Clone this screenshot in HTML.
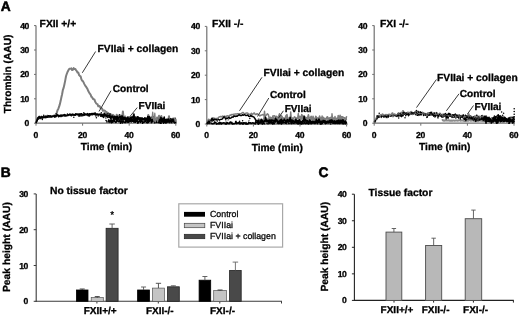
<!DOCTYPE html>
<html lang="en">
<head>
<meta charset="utf-8">
<title>Figure</title>
<style>
html,body{margin:0;padding:0;background:#fff;}
body{width:520px;height:315px;overflow:hidden;}
svg{display:block;font-family:"Liberation Sans", Arial, Helvetica, sans-serif;text-rendering:geometricPrecision;}
text{stroke:#000;stroke-width:.3px;stroke-linejoin:round;}
text.n{stroke-width:.15px;}
</style>
</head>
<body>
<svg width="520" height="315" viewBox="0 0 520 315">
<rect x="0" y="0" width="520" height="315" fill="#fff"/>
<line x1="36.00" y1="25.60" x2="36.00" y2="123.70" stroke="#707070" stroke-width="1.2"/>
<line x1="35.50" y1="123.20" x2="176.80" y2="123.20" stroke="#707070" stroke-width="1.3"/>
<line x1="34.00" y1="123.20" x2="36.00" y2="123.20" stroke="#707070" stroke-width="1"/>
<text x="29.1" y="126.2" font-size="8.6" font-weight="bold" text-anchor="end" fill="#000" letter-spacing="-0.3">0</text>
<line x1="34.00" y1="98.80" x2="36.00" y2="98.80" stroke="#707070" stroke-width="1"/>
<text x="29.1" y="101.8" font-size="8.6" font-weight="bold" text-anchor="end" fill="#000" letter-spacing="-0.3">10</text>
<line x1="34.00" y1="74.40" x2="36.00" y2="74.40" stroke="#707070" stroke-width="1"/>
<text x="29.1" y="77.4" font-size="8.6" font-weight="bold" text-anchor="end" fill="#000" letter-spacing="-0.3">20</text>
<line x1="34.00" y1="50.00" x2="36.00" y2="50.00" stroke="#707070" stroke-width="1"/>
<text x="29.1" y="53.0" font-size="8.6" font-weight="bold" text-anchor="end" fill="#000" letter-spacing="-0.3">30</text>
<line x1="34.00" y1="25.60" x2="36.00" y2="25.60" stroke="#707070" stroke-width="1"/>
<text x="29.1" y="28.6" font-size="8.6" font-weight="bold" text-anchor="end" fill="#000" letter-spacing="-0.3">40</text>
<line x1="36.00" y1="123.20" x2="36.00" y2="125.70" stroke="#707070" stroke-width="1"/>
<text x="35.8" y="137.6" font-size="8.6" font-weight="bold" text-anchor="middle" fill="#000" letter-spacing="-0.3">0</text>
<line x1="82.60" y1="123.20" x2="82.60" y2="125.70" stroke="#707070" stroke-width="1"/>
<text x="82.4" y="137.6" font-size="8.6" font-weight="bold" text-anchor="middle" fill="#000" letter-spacing="-0.3">20</text>
<line x1="129.20" y1="123.20" x2="129.20" y2="125.70" stroke="#707070" stroke-width="1"/>
<text x="129.0" y="137.6" font-size="8.6" font-weight="bold" text-anchor="middle" fill="#000" letter-spacing="-0.3">40</text>
<line x1="175.80" y1="123.20" x2="175.80" y2="125.70" stroke="#707070" stroke-width="1"/>
<text x="175.6" y="137.6" font-size="8.6" font-weight="bold" text-anchor="middle" fill="#000" letter-spacing="-0.3">60</text>
<text x="106.5" y="149.7" font-size="10.2" font-weight="bold" text-anchor="middle" fill="#000">Time (min)</text>
<text x="39.6" y="26.6" font-size="10.3" font-weight="bold" text-anchor="start" fill="#000">FXII +/+</text>
<polyline points="36.0,123.2 36.8,119.9 37.5,118.1 38.3,117.5 39.1,116.7 39.8,117.0 40.6,118.1 41.4,116.5 42.2,117.9 42.9,117.8 43.7,116.5 44.5,116.6 45.2,116.3 46.0,116.3 46.8,116.1 47.5,115.7 48.3,116.7 49.1,116.5 49.8,116.7 50.6,117.0 51.4,116.9 52.1,116.3 52.9,116.4 53.7,115.6 54.5,116.5 55.2,116.9 56.0,116.1 56.8,112.7 57.5,110.3 58.3,108.9 59.1,106.7 59.8,104.4 60.6,101.1 61.4,97.3 62.1,94.3 62.9,89.8 63.7,87.6 64.4,84.5 65.2,80.6 66.0,76.3 66.8,73.8 67.5,72.0 68.3,70.5 69.1,69.1 69.8,68.7 70.6,68.8 71.4,68.4 72.1,70.0 72.9,69.8 73.7,68.1 74.4,69.0 75.2,68.9 76.0,70.1 76.8,71.1 77.5,72.5 78.3,72.5 79.1,75.1 79.8,75.8 80.6,76.3 81.4,79.3 82.1,80.6 82.9,81.1 83.7,82.6 84.4,84.1 85.2,85.6 86.0,86.6 86.7,87.7 87.5,89.1 88.3,91.1 89.1,92.4 89.8,93.7 90.6,94.6 91.4,96.9 92.1,97.2 92.9,98.8 93.7,99.3 94.4,99.4 95.2,101.8 96.0,103.1 96.7,103.9 97.5,104.1 98.3,106.3 99.0,105.9 99.8,106.4 100.6,108.2 101.4,108.2 102.1,108.6 102.9,110.8 103.7,110.5 104.4,110.4 105.2,111.1 106.0,112.0 106.7,112.0 107.5,113.3 108.3,113.0 109.0,114.1 109.8,114.1 110.6,114.3 111.4,114.7 112.1,116.0 112.9,114.9 113.7,115.5 114.4,116.2 115.2,117.2 116.0,118.1 116.7,114.8 117.5,120.2 118.3,115.5 119.0,117.0 119.8,117.1 120.6,116.2 121.3,115.7 122.1,119.1 122.9,111.4 123.7,119.3 124.4,119.7 125.2,116.5 126.0,120.5 126.7,118.9 127.5,117.6 128.3,119.5 129.0,118.5 129.8,120.8 130.6,118.5 131.3,117.5 132.1,119.9 132.9,117.5 133.7,114.6 134.4,118.3 135.2,117.7 136.0,120.0 136.7,117.6 137.5,117.7 138.3,118.0 139.0,119.0 139.8,121.0 140.6,117.9 141.3,120.1 142.1,121.5 142.9,119.5 143.6,122.8 144.4,118.9 145.2,118.3 146.0,119.8 146.7,119.0 147.5,120.1 148.3,114.9 149.0,119.0 149.8,118.8 150.6,120.0 151.3,117.7 152.1,117.2 152.9,118.2 153.6,120.1 154.4,119.2 155.2,120.5 155.9,120.2 156.7,118.9 157.5,117.9 158.3,117.8 159.0,115.8 159.8,121.1 160.6,119.2 161.3,115.9 162.1,120.1 162.9,119.2 163.6,119.5 164.4,121.1 165.2,121.8 165.9,121.1 166.7,120.6 167.5,119.9 168.3,120.0 169.0,116.2 169.8,121.5 170.6,119.9 171.3,120.4 172.1,119.6 172.9,118.6 173.6,119.9 174.4,121.3 175.2,118.1" fill="none" stroke="#7d7d7d" stroke-width="2.0" stroke-linejoin="round"/>
<polyline points="36.0,123.2 36.6,121.7 37.2,119.6 37.7,118.5 38.3,119.2 38.9,117.9 39.5,118.5 40.1,117.7 40.7,118.5 41.2,117.8 41.8,117.4 42.4,118.2 43.0,117.6 43.6,117.4 44.2,117.4 44.7,117.7 45.3,116.8 45.9,117.9 46.5,117.1 47.1,116.7 47.6,117.3 48.2,116.8 48.8,117.2 49.4,116.9 50.0,116.8 50.6,116.7 51.1,117.0 51.7,116.7 52.3,116.7 52.9,116.4 53.5,116.2 54.1,116.5 54.6,117.2 55.2,116.6 55.8,116.1 56.4,116.6 57.0,115.9 57.6,115.7 58.1,115.7 58.7,117.0 59.3,116.0 59.9,116.3 60.5,115.6 61.0,116.7 61.6,115.4 62.2,116.3 62.8,115.6 63.4,115.8 64.0,115.5 64.5,116.2 65.1,115.9 65.7,116.1 66.3,115.6 66.9,116.1 67.5,114.9 68.0,115.2 68.6,115.5 69.2,114.7 69.8,114.8 70.4,115.4 71.0,115.6 71.5,115.9 72.1,115.0 72.7,115.1 73.3,115.4 73.9,114.6 74.4,115.2 75.0,114.5 75.6,115.3 76.2,114.6 76.8,114.4 77.4,114.4 77.9,115.0 78.5,115.1 79.1,114.5 79.7,115.1 80.3,114.7 80.9,115.1 81.4,116.0 82.0,115.1 82.6,115.8 83.2,114.9 83.8,114.5 84.3,115.2 84.9,115.3 85.5,114.8 86.1,115.0 86.7,114.5 87.3,114.8 87.8,115.6 88.4,114.9 89.0,115.6 89.6,115.9 90.2,113.7 90.8,115.0 91.3,114.5 91.9,114.4 92.5,114.9 93.1,114.6 93.7,114.0 94.2,113.7 94.8,114.8 95.4,113.8 96.0,115.3 96.6,114.1 97.2,114.6 97.7,115.1 98.3,115.2 98.9,114.7 99.5,114.7 100.1,115.2 100.7,116.4 101.2,115.8 101.8,113.9 102.4,115.0 103.0,114.7 103.6,115.0 104.2,113.0 104.7,115.1 105.3,115.1 105.9,115.0 106.5,115.4 107.1,114.5 107.6,117.5 108.2,117.5 108.8,116.6 109.4,117.2 110.0,113.6 110.6,118.6 111.1,118.8 111.7,117.2 112.3,116.1 112.9,116.0 113.5,119.6 114.1,118.4 114.6,120.4 115.2,116.8 115.8,118.2 116.4,116.3 117.0,121.0 117.5,117.8 118.1,117.5 118.7,119.2 119.3,120.8 119.9,119.5 120.5,119.3 121.0,117.7 121.6,120.1 122.2,119.3 122.8,117.5 123.4,118.0 124.0,118.7 124.5,119.1 125.1,117.7 125.7,122.4 126.3,118.6 126.9,120.3 127.5,119.3 128.0,116.6 128.6,120.5 129.2,120.3 129.8,119.1 130.4,119.5 130.9,119.2 131.5,119.9 132.1,120.3 132.7,120.4 133.3,119.7 133.9,119.3 134.4,120.5 135.0,120.5 135.6,116.8 136.2,119.5 136.8,118.5 137.4,119.0 137.9,118.8 138.5,117.1 139.1,119.5 139.7,118.4 140.3,121.2 140.9,120.3 141.4,119.2 142.0,118.2 142.6,119.6 143.2,118.6 143.8,119.4 144.3,119.4 144.9,120.2 145.5,121.5 146.1,118.3 146.7,118.8 147.3,119.7 147.8,119.7 148.4,116.5 149.0,119.2 149.6,116.3 150.2,120.3 150.8,118.2 151.3,120.7 151.9,117.3 152.5,120.5 153.1,116.6 153.7,118.9 154.2,119.8 154.8,123.2 155.4,119.9 156.0,120.4 156.6,119.2 157.2,119.6 157.7,118.5 158.3,120.3 158.9,122.2 159.5,120.7 160.1,119.0 160.7,117.1 161.2,120.2 161.8,118.1 162.4,121.0 163.0,120.2 163.6,120.4 164.2,121.6 164.7,120.4 165.3,121.7 165.9,122.6 166.5,119.1 167.1,119.2 167.6,122.2 168.2,119.4 168.8,120.9 169.4,120.2 170.0,121.5 170.6,119.9 171.1,120.7 171.7,118.8 172.3,119.9 172.9,120.2 173.5,120.7 174.1,121.2 174.6,119.9 175.2,118.1 175.8,122.8" fill="none" stroke="#111" stroke-width="1.3" stroke-linejoin="round"/>
<polyline points="36.0,122.7 36.6,121.3 37.2,120.6 37.7,118.1 38.3,117.7 38.9,117.4 39.5,117.1 40.1,117.3 40.7,117.2 41.2,117.0 41.8,116.8 42.4,117.1 43.0,117.0 43.6,117.4 44.2,117.0 44.7,116.9 45.3,117.0 45.9,116.3 46.5,116.6 47.1,117.1 47.6,116.0 48.2,116.1 48.8,115.7 49.4,115.9 50.0,116.4 50.6,115.9 51.1,116.4 51.7,116.6 52.3,116.2 52.9,116.2 53.5,116.2 54.1,116.0 54.6,115.4 55.2,116.5 55.8,115.7 56.4,115.1 57.0,115.1 57.6,114.9 58.1,115.3 58.7,116.1 59.3,116.0 59.9,115.4 60.5,115.1 61.0,115.3 61.6,115.1 62.2,115.4 62.8,115.1 63.4,115.1 64.0,115.2 64.5,114.5 65.1,114.9 65.7,115.5 66.3,115.2 66.9,115.3 67.5,115.1 68.0,114.9 68.6,114.8 69.2,114.7 69.8,114.1 70.4,114.5 71.0,114.3 71.5,114.8 72.1,114.6 72.7,114.1 73.3,114.5 73.9,114.5 74.4,115.0 75.0,115.2 75.6,113.9 76.2,113.9 76.8,114.5 77.4,114.0 77.9,114.5 78.5,114.1 79.1,113.8 79.7,114.7 80.3,113.9 80.9,114.5 81.4,113.7 82.0,114.1 82.6,114.4 83.2,114.3 83.8,114.2 84.3,113.7 84.9,114.4 85.5,114.2 86.1,114.4 86.7,114.6 87.3,113.6 87.8,114.0 88.4,114.2 89.0,114.6 89.6,113.7 90.2,114.4 90.8,114.2 91.3,113.8 91.9,113.5 92.5,114.0 93.1,113.4 93.7,114.1 94.2,114.2 94.8,113.7 95.4,113.6 96.0,114.0 96.6,114.3 97.2,114.2 97.7,114.3 98.3,114.5 98.9,114.2 99.5,114.3 100.1,114.0 100.7,114.3 101.2,115.0 101.8,116.3 102.4,116.7 103.0,114.9 103.6,114.7 104.2,116.0 104.7,113.6 105.3,115.2 105.9,116.1 106.5,116.5 107.1,115.7 107.6,115.5 108.2,115.9 108.8,115.3 109.4,115.4 110.0,117.6 110.6,118.0 111.1,116.5 111.7,116.2 112.3,116.7 112.9,117.0 113.5,119.0 114.1,116.7 114.6,116.6 115.2,116.9 115.8,117.6 116.4,119.6 117.0,118.0 117.5,116.5 118.1,119.1 118.7,118.4 119.3,117.9 119.9,116.1 120.5,118.4 121.0,116.6 121.6,119.8 122.2,116.4 122.8,117.2 123.4,119.6 124.0,117.3 124.5,118.9 125.1,117.9 125.7,119.8 126.3,119.1 126.9,118.0 127.5,117.7 128.0,119.2 128.6,119.0 129.2,118.3 129.8,120.2 130.4,117.2 130.9,120.4 131.5,117.3 132.1,116.7 132.7,118.0 133.3,118.4 133.9,114.0 134.4,118.4 135.0,120.7 135.6,119.2 136.2,118.6 136.8,118.9 137.4,116.8 137.9,119.6 138.5,117.3 139.1,117.8 139.7,119.6 140.3,118.0 140.9,119.1 141.4,120.4 142.0,117.8 142.6,119.0 143.2,119.8 143.8,118.6 144.3,119.4 144.9,118.0 145.5,119.4 146.1,118.9 146.7,118.2 147.3,119.7 147.8,116.6 148.4,120.0 149.0,120.9 149.6,117.7 150.2,118.6 150.8,120.4 151.3,120.5 151.9,119.3 152.5,118.9 153.1,119.9 153.7,117.1 154.2,119.1 154.8,120.4 155.4,119.7 156.0,121.9 156.6,120.2 157.2,119.2 157.7,119.9 158.3,120.6 158.9,120.5 159.5,120.2 160.1,119.9 160.7,119.2 161.2,119.6 161.8,120.6 162.4,120.7 163.0,118.8 163.6,118.9 164.2,117.0 164.7,119.6 165.3,120.3 165.9,119.6 166.5,122.1 167.1,120.6 167.6,120.7 168.2,119.0 168.8,120.0 169.4,122.0 170.0,120.3 170.6,121.3 171.1,121.1 171.7,121.8 172.3,119.7 172.9,120.2 173.5,118.5 174.1,121.2 174.6,122.7 175.2,121.5 175.8,120.2" fill="none" stroke="#000" stroke-width="1.5" stroke-linejoin="round"/>
<polyline points="108.2,122.5 108.8,119.9 109.4,121.2 110.0,122.3 110.6,120.8 111.1,119.7 111.7,122.3 112.3,120.4 112.9,122.2 113.5,120.0 114.1,120.2 114.6,121.2 115.2,122.0 115.8,122.5 116.4,121.9 117.0,120.1 117.5,120.6 118.1,121.0 118.7,121.6 119.3,121.1 119.9,120.4 120.5,123.2 121.0,121.5 121.6,121.0 122.2,122.2 122.8,121.6 123.4,121.3 124.0,122.3 124.5,122.3 125.1,122.6 125.7,122.2 126.3,121.2 126.9,120.3 127.5,121.3 128.0,121.5 128.6,122.1 129.2,121.0 129.8,121.7 130.4,120.1 130.9,121.2 131.5,120.3 132.1,120.8 132.7,121.3 133.3,121.0 133.9,122.2 134.4,120.6 135.0,121.5 135.6,122.1 136.2,121.3 136.8,120.4 137.4,121.3 137.9,123.2 138.5,122.0 139.1,121.4 139.7,120.9 140.3,122.3 140.9,121.1 141.4,120.7 142.0,120.9 142.6,123.2 143.2,122.1 143.8,122.2 144.3,122.0 144.9,121.6 145.5,120.3 146.1,121.6 146.7,122.6 147.3,122.9 147.8,120.8 148.4,122.5 149.0,121.7 149.6,120.0 150.2,119.9 150.8,119.9 151.3,122.7 151.9,119.7 152.5,121.5 153.1,120.4 153.7,121.5 154.2,120.3 154.8,121.4 155.4,121.4 156.0,121.6 156.6,122.3 157.2,121.4 157.7,120.6 158.3,122.6 158.9,121.4 159.5,122.6 160.1,122.7 160.7,123.2 161.2,119.6 161.8,121.3 162.4,121.8 163.0,120.4 163.6,123.2 164.2,121.4 164.7,122.2 165.3,120.8 165.9,123.0 166.5,121.4 167.1,121.6 167.6,120.1 168.2,122.1 168.8,121.6 169.4,121.1 170.0,121.2 170.6,121.0 171.1,121.5 171.7,122.7 172.3,120.3 172.9,119.7 173.5,121.5 174.1,122.4 174.6,120.6 175.2,122.7 175.8,121.4" fill="none" stroke="#000" stroke-width="1.6" stroke-linejoin="round"/>
<circle cx="161.2" cy="123.1" r="0.75" fill="#000"/>
<circle cx="146.7" cy="119.5" r="0.75" fill="#000"/>
<circle cx="133.6" cy="120.6" r="0.75" fill="#000"/>
<circle cx="111.3" cy="117.2" r="0.75" fill="#000"/>
<circle cx="159.7" cy="122.4" r="0.75" fill="#000"/>
<circle cx="114.6" cy="118.0" r="0.75" fill="#000"/>
<circle cx="57.5" cy="115.0" r="0.75" fill="#000"/>
<circle cx="106.1" cy="114.0" r="0.75" fill="#000"/>
<circle cx="58.2" cy="115.5" r="0.75" fill="#000"/>
<circle cx="105.9" cy="117.9" r="0.75" fill="#000"/>
<circle cx="156.9" cy="120.4" r="0.75" fill="#000"/>
<circle cx="39.2" cy="117.0" r="0.75" fill="#000"/>
<circle cx="115.7" cy="119.8" r="0.75" fill="#000"/>
<circle cx="129.8" cy="118.6" r="0.75" fill="#000"/>
<circle cx="95.9" cy="116.1" r="0.75" fill="#000"/>
<circle cx="170.4" cy="118.8" r="0.75" fill="#000"/>
<circle cx="125.8" cy="118.3" r="0.75" fill="#000"/>
<circle cx="42.3" cy="119.6" r="0.75" fill="#000"/>
<circle cx="166.4" cy="122.4" r="0.75" fill="#000"/>
<circle cx="83.8" cy="112.8" r="0.75" fill="#000"/>
<circle cx="105.0" cy="115.9" r="0.75" fill="#000"/>
<circle cx="161.7" cy="118.0" r="0.75" fill="#000"/>
<circle cx="124.3" cy="118.8" r="0.75" fill="#000"/>
<circle cx="84.9" cy="113.8" r="0.75" fill="#000"/>
<circle cx="103.6" cy="116.8" r="0.75" fill="#000"/>
<circle cx="110.6" cy="116.7" r="0.75" fill="#000"/>
<circle cx="98.2" cy="116.1" r="0.75" fill="#000"/>
<circle cx="96.4" cy="117.8" r="0.75" fill="#000"/>
<circle cx="78.6" cy="116.1" r="0.75" fill="#000"/>
<circle cx="152.1" cy="122.0" r="0.75" fill="#000"/>
<circle cx="75.7" cy="114.0" r="0.75" fill="#000"/>
<circle cx="107.9" cy="113.8" r="0.75" fill="#000"/>
<circle cx="147.2" cy="120.5" r="0.75" fill="#000"/>
<circle cx="83.8" cy="115.5" r="0.75" fill="#000"/>
<circle cx="118.9" cy="117.6" r="0.75" fill="#000"/>
<circle cx="125.6" cy="119.3" r="0.75" fill="#000"/>
<circle cx="137.7" cy="120.3" r="0.75" fill="#000"/>
<circle cx="160.1" cy="121.1" r="0.75" fill="#000"/>
<circle cx="79.6" cy="115.2" r="0.75" fill="#000"/>
<circle cx="39.2" cy="116.6" r="0.75" fill="#000"/>
<circle cx="122.0" cy="115.7" r="0.75" fill="#000"/>
<circle cx="128.8" cy="118.6" r="0.75" fill="#000"/>
<circle cx="122.4" cy="122.9" r="0.75" fill="#000"/>
<circle cx="123.1" cy="121.1" r="0.75" fill="#000"/>
<circle cx="120.3" cy="121.1" r="0.75" fill="#000"/>
<circle cx="131.9" cy="119.0" r="0.75" fill="#000"/>
<circle cx="101.3" cy="112.8" r="0.75" fill="#000"/>
<circle cx="143.2" cy="119.1" r="0.75" fill="#000"/>
<circle cx="43.4" cy="116.9" r="0.75" fill="#000"/>
<circle cx="144.8" cy="117.9" r="0.75" fill="#000"/>
<circle cx="89.0" cy="116.0" r="0.75" fill="#000"/>
<circle cx="151.4" cy="119.8" r="0.75" fill="#000"/>
<circle cx="73.8" cy="117.3" r="0.75" fill="#000"/>
<circle cx="79.9" cy="116.3" r="0.75" fill="#000"/>
<circle cx="97.5" cy="114.2" r="0.75" fill="#000"/>
<circle cx="126.6" cy="118.9" r="0.75" fill="#000"/>
<circle cx="116.3" cy="118.5" r="0.75" fill="#000"/>
<circle cx="43.7" cy="115.2" r="0.75" fill="#000"/>
<circle cx="117.4" cy="116.5" r="0.75" fill="#000"/>
<circle cx="164.6" cy="121.0" r="0.75" fill="#000"/>
<circle cx="91.6" cy="114.5" r="0.75" fill="#000"/>
<circle cx="119.7" cy="114.7" r="0.75" fill="#000"/>
<circle cx="103.7" cy="117.4" r="0.75" fill="#000"/>
<circle cx="95.0" cy="112.7" r="0.75" fill="#000"/>
<circle cx="67.5" cy="114.1" r="0.75" fill="#000"/>
<circle cx="59.2" cy="116.0" r="0.75" fill="#000"/>
<circle cx="132.3" cy="119.6" r="0.75" fill="#000"/>
<circle cx="55.1" cy="115.7" r="0.75" fill="#000"/>
<circle cx="157.9" cy="120.7" r="0.75" fill="#000"/>
<circle cx="56.1" cy="113.7" r="0.75" fill="#000"/>
<circle cx="122.8" cy="120.3" r="0.75" fill="#000"/>
<circle cx="157.2" cy="120.5" r="0.75" fill="#000"/>
<circle cx="160.0" cy="120.3" r="0.75" fill="#000"/>
<circle cx="155.8" cy="119.2" r="0.75" fill="#000"/>
<circle cx="111.8" cy="122.4" r="0.75" fill="#000"/>
<circle cx="149.8" cy="121.1" r="0.75" fill="#000"/>
<circle cx="171.1" cy="122.3" r="0.75" fill="#000"/>
<circle cx="123.7" cy="118.3" r="0.75" fill="#000"/>
<circle cx="106.7" cy="121.0" r="0.75" fill="#000"/>
<circle cx="106.9" cy="122.1" r="0.75" fill="#000"/>
<circle cx="111.5" cy="122.7" r="0.75" fill="#000"/>
<circle cx="127.6" cy="120.7" r="0.75" fill="#000"/>
<circle cx="166.1" cy="121.6" r="0.75" fill="#000"/>
<circle cx="139.9" cy="119.3" r="0.75" fill="#000"/>
<circle cx="146.1" cy="120.1" r="0.75" fill="#000"/>
<circle cx="136.6" cy="121.0" r="0.75" fill="#000"/>
<circle cx="161.6" cy="121.4" r="0.75" fill="#000"/>
<circle cx="131.3" cy="121.9" r="0.75" fill="#000"/>
<circle cx="135.1" cy="122.2" r="0.75" fill="#000"/>
<circle cx="132.9" cy="119.8" r="0.75" fill="#000"/>
<circle cx="160.7" cy="123.2" r="0.75" fill="#000"/>
<circle cx="145.5" cy="120.8" r="0.75" fill="#000"/>
<circle cx="174.0" cy="120.3" r="0.75" fill="#000"/>
<circle cx="155.1" cy="120.1" r="0.75" fill="#000"/>
<circle cx="148.2" cy="121.8" r="0.75" fill="#000"/>
<circle cx="174.2" cy="119.8" r="0.75" fill="#000"/>
<circle cx="127.5" cy="122.3" r="0.75" fill="#000"/>
<circle cx="135.9" cy="119.5" r="0.75" fill="#000"/>
<circle cx="153.8" cy="121.6" r="0.75" fill="#000"/>
<circle cx="148.0" cy="118.6" r="0.75" fill="#000"/>
<circle cx="125.7" cy="122.2" r="0.75" fill="#000"/>
<circle cx="106.0" cy="120.6" r="0.75" fill="#000"/>
<circle cx="146.9" cy="119.1" r="0.75" fill="#000"/>
<circle cx="162.9" cy="120.4" r="0.75" fill="#000"/>
<circle cx="164.1" cy="121.0" r="0.75" fill="#000"/>
<circle cx="162.6" cy="119.4" r="0.75" fill="#000"/>
<circle cx="125.0" cy="122.0" r="0.75" fill="#000"/>
<circle cx="165.4" cy="119.9" r="0.75" fill="#000"/>
<circle cx="169.8" cy="122.8" r="0.75" fill="#000"/>
<circle cx="130.1" cy="119.0" r="0.75" fill="#000"/>
<polyline points="151.3,118.3 152.0,118.5 152.7,112.0 153.4,118.6 154.1,121.5 154.8,113.1 155.5,121.6 156.2,119.3 156.9,117.0 157.6,121.7 158.3,118.4" fill="none" stroke="#7d7d7d" stroke-width="1.2" stroke-linejoin="round"/>
<polyline points="173.9,119.2 174.6,118.3 175.3,121.1 176.0,118.8" fill="none" stroke="#7d7d7d" stroke-width="1.6" stroke-linejoin="round"/>
<text x="97.6" y="51.7" font-size="10.25" font-weight="bold" text-anchor="start" fill="#000">FVIIai + collagen</text>
<line x1="95.60" y1="51.50" x2="82.30" y2="72.80" stroke="#222" stroke-width="0.9"/>
<text x="112.8" y="91.5" font-size="10.1" font-weight="bold" text-anchor="start" fill="#000">Control</text>
<line x1="111.00" y1="90.70" x2="99.00" y2="111.50" stroke="#222" stroke-width="0.9"/>
<text x="138.5" y="108.5" font-size="10.1" font-weight="bold" text-anchor="start" fill="#000">FVIIai</text>
<line x1="137.20" y1="107.60" x2="129.50" y2="117.00" stroke="#222" stroke-width="0.9"/>
<text x="11.2" y="113.2" font-size="10.2" font-weight="bold" text-anchor="start" fill="#000" transform="rotate(-90 11.2 113.2)">Thrombin (AAU)</text>
<line x1="206.80" y1="26.40" x2="206.80" y2="124.50" stroke="#707070" stroke-width="1.2"/>
<line x1="206.30" y1="124.00" x2="347.60" y2="124.00" stroke="#707070" stroke-width="1.3"/>
<line x1="204.80" y1="124.00" x2="206.80" y2="124.00" stroke="#707070" stroke-width="1"/>
<text x="199.9" y="127.0" font-size="8.6" font-weight="bold" text-anchor="end" fill="#000" letter-spacing="-0.3">0</text>
<line x1="204.80" y1="99.60" x2="206.80" y2="99.60" stroke="#707070" stroke-width="1"/>
<text x="199.9" y="102.6" font-size="8.6" font-weight="bold" text-anchor="end" fill="#000" letter-spacing="-0.3">10</text>
<line x1="204.80" y1="75.20" x2="206.80" y2="75.20" stroke="#707070" stroke-width="1"/>
<text x="199.9" y="78.2" font-size="8.6" font-weight="bold" text-anchor="end" fill="#000" letter-spacing="-0.3">20</text>
<line x1="204.80" y1="50.80" x2="206.80" y2="50.80" stroke="#707070" stroke-width="1"/>
<text x="199.9" y="53.8" font-size="8.6" font-weight="bold" text-anchor="end" fill="#000" letter-spacing="-0.3">30</text>
<line x1="204.80" y1="26.40" x2="206.80" y2="26.40" stroke="#707070" stroke-width="1"/>
<text x="199.9" y="29.4" font-size="8.6" font-weight="bold" text-anchor="end" fill="#000" letter-spacing="-0.3">40</text>
<line x1="206.80" y1="124.00" x2="206.80" y2="126.50" stroke="#707070" stroke-width="1"/>
<text x="206.6" y="138.4" font-size="8.6" font-weight="bold" text-anchor="middle" fill="#000" letter-spacing="-0.3">0</text>
<line x1="253.40" y1="124.00" x2="253.40" y2="126.50" stroke="#707070" stroke-width="1"/>
<text x="253.2" y="138.4" font-size="8.6" font-weight="bold" text-anchor="middle" fill="#000" letter-spacing="-0.3">20</text>
<line x1="300.00" y1="124.00" x2="300.00" y2="126.50" stroke="#707070" stroke-width="1"/>
<text x="299.8" y="138.4" font-size="8.6" font-weight="bold" text-anchor="middle" fill="#000" letter-spacing="-0.3">40</text>
<line x1="346.60" y1="124.00" x2="346.60" y2="126.50" stroke="#707070" stroke-width="1"/>
<text x="346.4" y="138.4" font-size="8.6" font-weight="bold" text-anchor="middle" fill="#000" letter-spacing="-0.3">60</text>
<text x="277.3" y="150.5" font-size="10.2" font-weight="bold" text-anchor="middle" fill="#000">Time (min)</text>
<text x="212" y="27.3" font-size="10.3" font-weight="bold" text-anchor="start" fill="#000">FXII -/-</text>
<polyline points="206.8,123.9 207.4,122.8 208.0,123.2 208.5,123.1 209.1,122.7 209.7,123.3 210.3,122.6 210.9,122.7 211.5,123.2 212.0,123.6 212.6,123.7 213.2,123.6 213.8,123.4 214.4,123.3 215.0,121.4 215.5,122.8 216.1,122.8 216.7,123.8 217.3,123.7 217.9,123.4 218.5,123.1 219.0,123.9 219.6,122.2 220.2,123.6 220.8,122.6 221.4,124.0 221.9,123.2 222.5,123.0 223.1,123.1 223.7,122.8 224.3,123.0 224.9,123.1 225.4,124.0 226.0,123.6 226.6,124.0 227.2,122.8 227.8,123.0 228.4,123.3 228.9,123.7 229.5,123.5 230.1,122.1 230.7,122.1 231.3,123.2 231.8,122.4 232.4,124.0 233.0,124.0 233.6,123.5 234.2,123.7 234.8,123.5 235.3,123.1 235.9,121.3 236.5,123.6 237.1,123.1 237.7,123.0 238.3,123.2 238.8,122.6 239.4,122.1 240.0,123.9 240.6,123.1 241.2,123.3 241.8,122.9 242.3,124.0 242.9,124.0 243.5,124.0 244.1,122.8 244.7,123.0 245.2,123.1 245.8,124.0 246.4,123.4 247.0,123.6 247.6,124.0 248.2,123.7 248.7,122.7 249.3,122.8 249.9,123.1 250.5,122.8 251.1,123.5 251.7,123.1 252.2,123.1 252.8,122.8 253.4,123.1 254.0,123.2 254.6,123.2 255.1,123.5 255.7,121.7 256.3,122.8 256.9,122.8 257.5,121.7 258.1,122.2 258.6,124.0 259.2,122.7 259.8,122.6 260.4,121.9 261.0,122.3 261.6,122.6 262.1,123.8 262.7,123.6 263.3,122.9 263.9,122.8 264.5,123.7 265.1,123.3 265.6,123.3 266.2,123.0 266.8,122.9 267.4,123.2 268.0,123.8 268.5,122.3 269.1,122.1 269.7,123.1 270.3,122.4 270.9,122.8 271.5,122.6 272.0,122.7 272.6,123.5 273.2,122.7 273.8,122.4 274.4,123.6 275.0,121.8 275.5,121.8 276.1,121.9 276.7,121.8 277.3,122.6 277.9,123.2 278.4,123.4 279.0,123.5 279.6,122.9 280.2,123.0 280.8,122.6 281.4,124.0 281.9,121.6 282.5,121.6 283.1,123.0 283.7,122.6 284.3,122.7 284.9,122.8 285.4,123.1 286.0,123.1 286.6,123.5 287.2,122.9 287.8,123.0 288.4,122.8 288.9,123.5 289.5,123.0 290.1,122.9 290.7,122.6 291.3,123.6 291.8,122.7 292.4,122.4 293.0,122.6 293.6,123.2 294.2,123.3 294.8,123.1 295.3,122.5 295.9,122.0 296.5,123.1 297.1,123.3 297.7,122.7 298.3,122.8 298.8,123.5 299.4,123.4 300.0,123.0 300.6,122.5 301.2,123.7 301.7,123.6 302.3,122.6 302.9,123.7 303.5,122.9 304.1,122.7 304.7,123.0 305.2,123.5 305.8,123.0 306.4,123.1 307.0,122.7 307.6,123.4 308.2,122.2 308.7,123.9 309.3,123.0 309.9,122.9 310.5,122.3 311.1,123.3 311.7,122.6 312.2,123.2 312.8,122.4 313.4,121.8 314.0,123.1 314.6,122.6 315.1,123.5 315.7,122.3 316.3,122.1 316.9,122.9 317.5,123.6 318.1,122.6 318.6,122.2 319.2,122.2 319.8,122.4 320.4,124.0 321.0,123.3 321.6,122.0 322.1,123.6 322.7,122.2 323.3,121.7 323.9,122.4 324.5,122.2 325.0,123.1 325.6,123.6 326.2,122.9 326.8,123.0 327.4,122.9 328.0,122.4 328.5,122.9 329.1,122.7 329.7,122.6 330.3,122.8 330.9,121.7 331.5,122.6 332.0,122.8 332.6,123.0 333.2,123.2 333.8,122.0 334.4,122.7 335.0,123.5 335.5,123.2 336.1,122.9 336.7,123.1 337.3,122.2 337.9,123.5 338.4,122.5 339.0,122.7 339.6,123.5 340.2,122.8 340.8,122.9 341.4,122.5 341.9,123.1 342.5,122.6 343.1,123.8 343.7,123.5 344.3,122.3 344.9,122.2 345.4,122.8 346.0,123.1 346.6,122.1" fill="none" stroke="#000" stroke-width="1.6" stroke-linejoin="round"/>
<circle cx="262.6" cy="124.0" r="0.75" fill="#000"/>
<circle cx="266.9" cy="121.3" r="0.75" fill="#000"/>
<circle cx="263.5" cy="123.3" r="0.75" fill="#000"/>
<circle cx="338.5" cy="121.9" r="0.75" fill="#000"/>
<circle cx="242.2" cy="123.1" r="0.75" fill="#000"/>
<circle cx="255.2" cy="124.0" r="0.75" fill="#000"/>
<circle cx="319.7" cy="120.7" r="0.75" fill="#000"/>
<circle cx="334.6" cy="121.1" r="0.75" fill="#000"/>
<circle cx="216.5" cy="124.0" r="0.75" fill="#000"/>
<circle cx="280.3" cy="119.3" r="0.75" fill="#000"/>
<circle cx="243.4" cy="122.8" r="0.75" fill="#000"/>
<circle cx="267.2" cy="122.8" r="0.75" fill="#000"/>
<circle cx="282.1" cy="122.9" r="0.75" fill="#000"/>
<circle cx="218.7" cy="123.4" r="0.75" fill="#000"/>
<circle cx="212.0" cy="121.5" r="0.75" fill="#000"/>
<circle cx="228.3" cy="120.0" r="0.75" fill="#000"/>
<circle cx="337.9" cy="122.4" r="0.75" fill="#000"/>
<circle cx="296.2" cy="121.1" r="0.75" fill="#000"/>
<circle cx="330.7" cy="124.0" r="0.75" fill="#000"/>
<circle cx="213.9" cy="122.7" r="0.75" fill="#000"/>
<circle cx="302.4" cy="122.8" r="0.75" fill="#000"/>
<circle cx="246.7" cy="124.0" r="0.75" fill="#000"/>
<circle cx="294.5" cy="122.8" r="0.75" fill="#000"/>
<circle cx="243.6" cy="123.3" r="0.75" fill="#000"/>
<circle cx="339.8" cy="122.2" r="0.75" fill="#000"/>
<circle cx="248.7" cy="122.6" r="0.75" fill="#000"/>
<circle cx="225.7" cy="120.4" r="0.75" fill="#000"/>
<circle cx="290.8" cy="120.6" r="0.75" fill="#000"/>
<circle cx="246.0" cy="122.4" r="0.75" fill="#000"/>
<circle cx="273.2" cy="122.7" r="0.75" fill="#000"/>
<circle cx="226.2" cy="122.2" r="0.75" fill="#000"/>
<circle cx="227.2" cy="122.4" r="0.75" fill="#000"/>
<circle cx="248.8" cy="120.8" r="0.75" fill="#000"/>
<circle cx="242.6" cy="120.7" r="0.75" fill="#000"/>
<circle cx="324.6" cy="121.2" r="0.75" fill="#000"/>
<circle cx="293.0" cy="123.6" r="0.75" fill="#000"/>
<circle cx="236.8" cy="122.8" r="0.75" fill="#000"/>
<circle cx="306.8" cy="123.5" r="0.75" fill="#000"/>
<circle cx="293.4" cy="121.7" r="0.75" fill="#000"/>
<circle cx="273.6" cy="122.4" r="0.75" fill="#000"/>
<circle cx="239.6" cy="121.2" r="0.75" fill="#000"/>
<circle cx="279.6" cy="123.3" r="0.75" fill="#000"/>
<circle cx="210.8" cy="121.0" r="0.75" fill="#000"/>
<circle cx="257.6" cy="121.5" r="0.75" fill="#000"/>
<circle cx="285.7" cy="122.7" r="0.75" fill="#000"/>
<circle cx="276.7" cy="122.8" r="0.75" fill="#000"/>
<circle cx="249.8" cy="118.5" r="0.75" fill="#000"/>
<circle cx="315.3" cy="121.8" r="0.75" fill="#000"/>
<circle cx="328.9" cy="121.7" r="0.75" fill="#000"/>
<circle cx="269.6" cy="120.9" r="0.75" fill="#000"/>
<polyline points="258.1,118.5 258.6,119.2 259.2,119.9 259.8,119.2 260.4,120.1 261.0,120.2 261.6,121.2 262.1,121.9 262.7,119.4 263.3,122.1 263.9,118.7 264.5,111.1 265.1,116.6 265.6,123.5 266.2,119.1 266.8,118.4 267.4,122.5 268.0,120.9 268.5,118.6 269.1,120.8 269.7,117.7 270.3,118.4 270.9,122.4 271.5,118.5 272.0,117.8 272.6,119.8 273.2,119.5 273.8,117.3 274.4,121.8 275.0,122.1 275.5,117.4 276.1,123.0 276.7,119.1 277.3,117.1 277.9,119.2 278.4,120.4 279.0,118.1 279.6,116.7 280.2,117.2 280.8,120.9 281.4,117.9 281.9,117.3 282.5,119.6 283.1,117.6 283.7,119.2 284.3,118.5 284.9,117.9 285.4,120.0 286.0,119.3 286.6,117.0 287.2,123.9 287.8,118.5 288.4,118.1 288.9,118.8 289.5,118.3 290.1,122.5 290.7,111.9 291.3,118.9 291.8,118.5 292.4,118.0 293.0,121.2 293.6,121.5 294.2,119.3 294.8,124.0 295.3,120.5 295.9,118.6 296.5,117.9 297.1,118.3 297.7,117.5 298.3,113.5 298.8,119.9 299.4,119.7 300.0,120.9 300.6,116.4 301.2,117.2 301.7,114.5 302.3,118.9 302.9,117.6 303.5,119.9 304.1,115.6 304.7,118.3 305.2,116.9 305.8,121.3 306.4,117.5 307.0,119.9 307.6,121.5 308.2,117.7 308.7,118.1 309.3,120.8 309.9,118.7 310.5,118.0 311.1,116.1 311.7,117.4 312.2,120.0 312.8,119.1 313.4,120.3 314.0,118.5 314.6,119.5 315.1,119.1 315.7,116.1 316.3,117.3 316.9,118.3 317.5,118.2 318.1,118.7 318.6,118.2 319.2,118.4 319.8,119.9 320.4,119.3 321.0,117.7 321.6,119.8 322.1,115.9 322.7,119.5 323.3,117.3 323.9,118.1 324.5,118.2 325.0,119.4 325.6,121.3 326.2,119.0 326.8,118.1 327.4,116.6 328.0,117.4 328.5,118.8 329.1,119.7 329.7,117.8 330.3,117.7 330.9,117.2 331.5,121.3 332.0,113.8 332.6,118.7 333.2,120.8 333.8,118.3 334.4,119.7 335.0,116.4 335.5,119.4 336.1,119.0 336.7,118.7 337.3,120.2 337.9,118.0 338.4,118.2 339.0,118.4 339.6,116.8 340.2,119.8 340.8,118.0 341.4,116.6 341.9,119.8 342.5,116.6 343.1,117.1 343.7,117.5 344.3,117.9 344.9,119.8 345.4,120.6 346.0,119.9 346.6,116.1" fill="none" stroke="#7d7d7d" stroke-width="1.4" stroke-linejoin="round"/>
<polyline points="206.8,124.0 207.7,120.5 208.7,119.2 209.6,120.0 210.5,119.4 211.5,119.6 212.4,118.2 213.3,118.0 214.3,118.3 215.2,118.7 216.1,118.5 217.1,118.4 218.0,118.1 218.9,117.1 219.8,116.8 220.8,116.5 221.7,116.9 222.6,116.1 223.6,116.9 224.5,116.0 225.4,116.6 226.4,116.2 227.3,115.8 228.2,115.9 229.2,116.3 230.1,115.0 231.0,115.2 232.0,114.4 232.9,114.8 233.8,114.2 234.8,114.1 235.7,113.9 236.6,114.0 237.6,113.8 238.5,113.8 239.4,113.8 240.4,113.7 241.3,113.4 242.2,112.9 243.1,112.4 244.1,113.6 245.0,113.8 245.9,113.2 246.9,112.9 247.8,113.2 248.7,114.4 249.7,114.2 250.6,114.3 251.5,113.4 252.5,114.7 253.4,113.4 254.3,113.0 255.3,114.5 256.2,114.4 257.1,113.7 258.1,114.3 259.0,115.0 259.9,115.9 260.9,115.2 261.8,115.1 262.7,114.5 263.7,115.0 264.6,115.3 265.5,115.8 266.4,114.9 267.4,113.8 268.3,114.5 269.2,118.2 270.2,117.2 271.1,117.9 272.0,118.5 273.0,115.8 273.9,116.1 274.8,115.8 275.8,117.5 276.7,116.3 277.6,121.0 278.6,116.4 279.5,113.7 280.4,118.1 281.4,115.6 282.3,116.9 283.2,121.0 284.2,119.4 285.1,118.3 286.0,115.5 287.0,114.6 287.9,119.4 288.8,119.4 289.7,118.8 290.7,118.7 291.6,117.8 292.5,118.9 293.5,118.5 294.4,116.8 295.3,117.4 296.3,119.4 297.2,118.8 298.1,118.0 299.1,116.1 300.0,117.4 300.9,120.0 301.9,115.3 302.8,115.7 303.7,118.0 304.7,120.0 305.6,121.1 306.5,119.7 307.5,117.7 308.4,114.8 309.3,118.5 310.3,117.6 311.2,117.2 312.1,120.1 313.0,116.3 314.0,120.3 314.9,120.2 315.8,116.8 316.8,117.9 317.7,117.9 318.6,119.0 319.6,116.0 320.5,118.7 321.4,119.6 322.4,119.0 323.3,118.0 324.2,119.0 325.2,119.4 326.1,118.3 327.0,117.3 328.0,119.7 328.9,118.5 329.8,120.1 330.8,119.5 331.7,118.1 332.6,117.7 333.6,118.3 334.5,119.0 335.4,120.5 336.3,118.2 337.3,121.5 338.2,115.4 339.1,118.6 340.1,115.2 341.0,120.3 341.9,118.0 342.9,119.4 343.8,119.2 344.7,117.7 345.7,118.3 346.6,119.9" fill="none" stroke="#7d7d7d" stroke-width="1.5" stroke-linejoin="round"/>
<polyline points="206.8,124.0 207.8,122.5 208.9,121.0 209.9,121.6 211.0,121.0 212.0,118.3 213.1,120.9 214.1,119.2 215.2,119.7 216.2,119.5 217.3,121.0 218.3,119.2 219.4,120.2 220.4,119.5 221.5,119.3 222.5,118.9 223.6,117.1 224.6,117.0 225.7,119.2 226.7,118.1 227.8,118.2 228.8,117.3 229.9,118.4 230.9,118.1 232.0,116.9 233.0,117.2 234.1,115.8 235.1,116.5 236.2,116.0 237.2,116.3 238.3,115.2 239.3,114.8 240.4,115.5 241.4,115.6 242.4,114.8 243.5,115.2 244.5,114.7 245.6,115.4 246.6,115.4 247.7,115.0 248.7,116.2 249.8,116.5 250.8,115.4 251.9,116.4 252.9,116.6 254.0,117.2 255.0,118.6 256.1,120.8 257.1,120.5 258.2,124.0 259.2,122.5 260.3,123.1 261.3,119.3 262.4,122.1 263.4,121.9 264.5,121.0 265.5,120.2 266.6,120.5 267.6,121.8 268.7,121.5 269.7,123.0 270.8,121.4 271.8,122.1 272.9,124.0 273.9,121.5 275.0,121.9 276.0,120.9 277.0,121.1 278.1,121.7 279.1,122.0 280.2,119.9 281.2,121.6 282.3,120.6 283.3,121.3 284.4,120.2 285.4,120.6 286.5,123.1 287.5,121.2 288.6,119.9 289.6,120.2 290.7,122.2 291.7,119.9 292.8,120.7 293.8,121.0 294.9,122.6 295.9,121.3 297.0,121.2 298.0,124.0 299.1,122.4 300.1,123.6 301.2,123.9 302.2,121.5 303.3,120.7 304.3,121.8 305.4,123.6 306.4,123.3 307.5,120.8 308.5,122.0 309.6,121.4 310.6,122.1 311.7,121.6 312.7,122.6 313.7,122.6 314.8,123.4 315.8,121.7 316.9,121.9 317.9,120.4 319.0,119.0 320.0,121.6 321.1,124.0 322.1,123.2 323.2,120.2 324.2,121.2 325.3,122.0 326.3,122.9 327.4,121.2 328.4,121.4 329.5,120.5 330.5,120.2 331.6,119.9 332.6,120.6 333.7,123.1 334.7,121.1 335.8,123.1 336.8,122.6 337.9,122.7 338.9,123.2 340.0,122.8 341.0,120.1 342.1,121.9 343.1,119.9 344.2,121.6 345.2,123.9 346.3,122.6" fill="none" stroke="#000" stroke-width="1.5" stroke-linejoin="round"/>
<polyline points="258.1,119.6 258.6,121.8 259.2,120.9 259.8,121.0 260.4,121.0 261.0,120.9 261.6,122.0 262.1,120.5 262.7,121.5 263.3,122.3 263.9,121.1 264.5,121.4 265.1,120.7 265.6,117.2 266.2,121.4 266.8,120.0 267.4,121.2 268.0,120.8 268.5,122.1 269.1,119.9 269.7,120.2 270.3,122.6 270.9,120.0 271.5,122.9 272.0,120.0 272.6,121.0 273.2,120.4 273.8,121.0 274.4,120.5 275.0,122.0 275.5,118.3 276.1,120.1 276.7,119.6 277.3,121.1 277.9,122.9 278.4,123.1 279.0,121.0 279.6,122.0 280.2,121.7 280.8,120.7 281.4,119.3 281.9,120.8 282.5,121.6 283.1,121.2 283.7,120.9 284.3,119.1 284.9,121.0 285.4,120.7 286.0,120.8 286.6,122.3 287.2,119.4 287.8,120.9 288.4,121.2 288.9,121.3 289.5,121.4 290.1,117.2 290.7,121.0 291.3,120.8 291.8,121.5 292.4,121.7 293.0,120.9 293.6,121.3 294.2,122.3 294.8,123.2 295.3,121.1 295.9,119.3 296.5,121.6 297.1,120.9 297.7,120.5 298.3,122.1 298.8,121.2 299.4,119.8 300.0,121.1 300.6,122.5 301.2,121.6 301.7,121.4 302.3,122.1 302.9,120.3 303.5,121.4 304.1,116.5 304.7,118.6 305.2,121.2 305.8,119.9 306.4,121.1 307.0,120.8 307.6,121.0 308.2,121.4 308.7,121.9 309.3,122.1 309.9,119.7 310.5,121.2 311.1,123.7 311.7,122.9 312.2,121.3 312.8,122.1 313.4,122.5 314.0,121.4 314.6,122.0 315.1,122.1 315.7,121.4 316.3,119.2 316.9,122.3 317.5,121.4 318.1,120.2 318.6,121.7 319.2,121.0 319.8,121.9 320.4,122.5 321.0,120.9 321.6,121.1 322.1,121.5 322.7,121.1 323.3,121.7 323.9,120.6 324.5,120.7 325.0,121.6 325.6,121.1 326.2,121.6 326.8,122.2 327.4,121.2 328.0,121.8 328.5,121.9 329.1,121.4 329.7,121.4 330.3,121.2 330.9,120.7 331.5,121.1 332.0,121.6 332.6,120.7 333.2,122.5 333.8,122.7 334.4,120.9 335.0,122.5 335.5,122.1 336.1,121.0 336.7,122.4 337.3,120.6 337.9,122.2 338.4,120.5 339.0,119.9 339.6,121.6 340.2,121.5 340.8,121.0 341.4,122.4 341.9,121.5 342.5,120.1 343.1,121.1 343.7,120.8 344.3,122.1 344.9,122.3 345.4,120.9 346.0,122.0 346.6,122.7" fill="none" stroke="#000" stroke-width="1.5" stroke-linejoin="round"/>
<polyline points="210.3,121.9 211.5,122.1 212.6,121.5 213.8,122.1 215.0,121.2 216.1,121.1 217.3,120.6 218.5,120.8 219.6,120.9 220.8,120.9 221.9,120.9 223.1,121.3 224.3,120.2 225.4,120.5 226.6,120.7 227.8,120.9 228.9,119.9 230.1,120.2 231.3,120.7 232.4,119.9 233.6,119.4 234.8,120.0 235.9,119.8 237.1,120.0 238.3,120.0 239.4,119.3 240.6,118.5 241.8,119.5 242.9,119.5 244.1,119.1 245.2,119.7 246.4,119.5 247.6,119.7 248.7,120.6 249.9,120.8 251.1,120.7 252.2,120.6" fill="none" stroke="#fff" stroke-width="0.9" stroke-linejoin="round" stroke-dasharray="1.5 1.2"/>
<text x="263.6" y="75.9" font-size="10.25" font-weight="bold" text-anchor="start" fill="#000">FVIIai + collagen</text>
<line x1="262.00" y1="77.30" x2="239.50" y2="110.80" stroke="#222" stroke-width="0.9"/>
<text x="269.9" y="97.6" font-size="10.1" font-weight="bold" text-anchor="start" fill="#000">Control</text>
<line x1="268.80" y1="98.00" x2="257.50" y2="116.50" stroke="#222" stroke-width="0.9"/>
<text x="284.7" y="111.8" font-size="10.1" font-weight="bold" text-anchor="start" fill="#000">FVIIai</text>
<line x1="283.40" y1="110.80" x2="278.40" y2="118.20" stroke="#222" stroke-width="0.9"/>
<line x1="374.20" y1="25.60" x2="374.20" y2="123.70" stroke="#707070" stroke-width="1.2"/>
<line x1="373.70" y1="123.20" x2="515.00" y2="123.20" stroke="#707070" stroke-width="1.3"/>
<line x1="372.20" y1="123.20" x2="374.20" y2="123.20" stroke="#707070" stroke-width="1"/>
<text x="367.3" y="126.2" font-size="8.6" font-weight="bold" text-anchor="end" fill="#000" letter-spacing="-0.3">0</text>
<line x1="372.20" y1="98.80" x2="374.20" y2="98.80" stroke="#707070" stroke-width="1"/>
<text x="367.3" y="101.8" font-size="8.6" font-weight="bold" text-anchor="end" fill="#000" letter-spacing="-0.3">10</text>
<line x1="372.20" y1="74.40" x2="374.20" y2="74.40" stroke="#707070" stroke-width="1"/>
<text x="367.3" y="77.4" font-size="8.6" font-weight="bold" text-anchor="end" fill="#000" letter-spacing="-0.3">20</text>
<line x1="372.20" y1="50.00" x2="374.20" y2="50.00" stroke="#707070" stroke-width="1"/>
<text x="367.3" y="53.0" font-size="8.6" font-weight="bold" text-anchor="end" fill="#000" letter-spacing="-0.3">30</text>
<line x1="372.20" y1="25.60" x2="374.20" y2="25.60" stroke="#707070" stroke-width="1"/>
<text x="367.3" y="28.6" font-size="8.6" font-weight="bold" text-anchor="end" fill="#000" letter-spacing="-0.3">40</text>
<line x1="374.20" y1="123.20" x2="374.20" y2="125.70" stroke="#707070" stroke-width="1"/>
<text x="374.0" y="137.6" font-size="8.6" font-weight="bold" text-anchor="middle" fill="#000" letter-spacing="-0.3">0</text>
<line x1="420.80" y1="123.20" x2="420.80" y2="125.70" stroke="#707070" stroke-width="1"/>
<text x="420.6" y="137.6" font-size="8.6" font-weight="bold" text-anchor="middle" fill="#000" letter-spacing="-0.3">20</text>
<line x1="467.40" y1="123.20" x2="467.40" y2="125.70" stroke="#707070" stroke-width="1"/>
<text x="467.2" y="137.6" font-size="8.6" font-weight="bold" text-anchor="middle" fill="#000" letter-spacing="-0.3">40</text>
<line x1="514.00" y1="123.20" x2="514.00" y2="125.70" stroke="#707070" stroke-width="1"/>
<text x="513.8" y="137.6" font-size="8.6" font-weight="bold" text-anchor="middle" fill="#000" letter-spacing="-0.3">60</text>
<text x="444.7" y="149.7" font-size="10.2" font-weight="bold" text-anchor="middle" fill="#000">Time (min)</text>
<text x="380" y="26.8" font-size="10.3" font-weight="bold" text-anchor="start" fill="#000">FXI -/-</text>
<polyline points="441.8,120.3 442.9,120.0 444.1,120.8 445.3,120.2 446.4,120.6 447.6,120.4 448.8,120.3 449.9,120.7 451.1,120.5 452.3,120.8 453.4,120.4 454.6,120.7 455.8,120.6 456.9,120.5 458.1,120.7 459.2,120.2 460.4,120.7 461.6,120.3 462.7,120.5 463.9,120.9 465.1,120.7 466.2,120.9 467.4,120.8 468.6,120.7 469.7,120.2 470.9,120.8 472.1,120.3 473.2,120.6 474.4,121.1 475.6,121.4 476.7,120.6 477.9,121.3 479.1,120.6 480.2,120.5 481.4,120.7 482.5,120.9 483.7,120.9 484.9,120.8 486.0,121.0 487.2,121.1 488.4,121.0" fill="none" stroke="#8c8c8c" stroke-width="2.0" stroke-linejoin="round"/>
<polyline points="374.2,122.5 374.9,121.2 375.6,119.5 376.3,119.2 377.0,117.5 377.7,117.3 378.4,116.1 379.1,115.7 379.8,116.6 380.5,115.3 381.2,115.9 381.9,116.1 382.6,114.6 383.3,115.4 384.0,116.1 384.7,115.9 385.4,115.1 386.1,115.8 386.8,115.0 387.5,117.1 388.2,116.1 388.9,114.8 389.6,114.8 390.3,115.0 391.0,115.5 391.7,115.6 392.4,113.5 393.1,116.2 393.8,115.4 394.5,114.6 395.2,114.9 395.9,115.1 396.6,115.5 397.3,115.2 398.0,114.8 398.7,113.3 399.4,114.3 400.1,114.4 400.8,115.0 401.5,112.8 402.2,114.3 402.9,113.3 403.6,113.3 404.3,112.7 405.0,113.9 405.7,113.7 406.4,114.0 407.1,113.8 407.8,112.6 408.5,112.8 409.2,113.6 409.8,112.8 410.5,112.6 411.2,112.0 411.9,112.8 412.6,113.9 413.3,113.2 414.0,113.6 414.7,112.9 415.4,113.0 416.1,114.1 416.8,113.6 417.5,113.5 418.2,113.3 418.9,114.9 419.6,113.7 420.3,114.8 421.0,113.7 421.7,113.6 422.4,112.8 423.1,113.2 423.8,113.8 424.5,113.7 425.2,114.1 425.9,114.9 426.6,114.6 427.3,114.0 428.0,113.2 428.7,114.8 429.4,114.8 430.1,113.9 430.8,114.8 431.5,113.7 432.2,114.5 432.9,114.3 433.6,113.4 434.3,114.6 435.0,114.2 435.7,115.4 436.4,113.1 437.1,115.3 437.8,114.6 438.5,114.7 439.2,115.6 439.9,114.2 440.6,115.7 441.3,115.1 442.0,114.7 442.7,115.0 443.4,115.4 444.1,114.3 444.8,115.7 445.5,115.7 446.2,115.6 446.9,114.9 447.6,115.7 448.3,115.1 449.0,115.5 449.7,115.5 450.4,114.4 451.1,116.0 451.8,115.5 452.5,116.1 453.2,116.6 453.9,115.5 454.6,116.7 455.3,116.1 456.0,115.8 456.7,116.5 457.4,115.4 458.1,115.4 458.8,116.2 459.5,116.0 460.2,116.9 460.9,116.6 461.6,116.0 462.3,116.8 463.0,116.9 463.7,116.8 464.4,117.2 465.1,116.0 465.8,116.1 466.5,116.6 467.2,116.4 467.9,116.5 468.6,114.4 469.3,118.2 470.0,116.2 470.7,116.4 471.4,117.3 472.1,117.4 472.8,117.4 473.5,119.6 474.2,116.9 474.9,116.4 475.6,116.8 476.3,119.8 477.0,115.9 477.7,116.4 478.4,117.2 479.0,119.2 479.7,116.8 480.4,120.0 481.1,118.6 481.8,116.1 482.5,115.9 483.2,119.8 483.9,119.0 484.6,117.1 485.3,120.6 486.0,116.2 486.7,119.4 487.4,119.0 488.1,118.9 488.8,119.4 489.5,119.6 490.2,120.1 490.9,119.2 491.6,118.3 492.3,120.6 493.0,119.4 493.7,120.8 494.4,121.0 495.1,120.1 495.8,118.1 496.5,117.9 497.2,119.2 497.9,118.3 498.6,121.5 499.3,117.1 500.0,120.3 500.7,116.5 501.4,119.8 502.1,119.1 502.8,121.7 503.5,117.3 504.2,118.3 504.9,120.1 505.6,119.3 506.3,120.5 507.0,121.0 507.7,119.2 508.4,119.7 509.1,118.4 509.8,120.0 510.5,118.0 511.2,117.5 511.9,119.1 512.6,118.8 513.3,117.2 514.0,119.7" fill="none" stroke="#7d7d7d" stroke-width="2.4" stroke-linejoin="round"/>
<polyline points="374.9,122.4 375.6,119.4 376.3,119.2 377.0,118.6 377.7,116.5 378.4,115.8 379.1,116.6 379.8,116.8 380.5,117.5 381.2,117.6 381.9,115.2 382.6,116.2 383.3,116.8 384.0,117.2 384.7,115.3 385.4,116.4 386.1,115.7 386.8,115.4 387.5,116.6 388.2,117.0 388.9,116.1 389.6,115.6 390.3,116.1 391.0,116.0 391.7,115.6 392.4,116.5 393.1,115.3 393.8,115.0 394.5,116.5 395.2,116.3 395.9,115.9 396.6,115.9 397.3,115.5 398.0,113.8 398.7,117.0 399.4,114.5 400.1,115.4 400.8,115.7 401.5,116.5 402.2,117.3 402.9,114.4 403.6,112.5 404.3,115.5 405.0,113.3 405.7,115.8 406.4,113.5 407.1,114.4 407.8,114.4 408.5,115.8 409.2,114.5 409.8,114.4 410.5,112.1 411.2,113.0 411.9,113.3 412.6,114.8 413.3,113.7 414.0,113.0 414.7,112.3 415.4,112.9 416.1,111.6 416.8,114.4 417.5,115.4 418.2,112.5 418.9,111.8 419.6,113.0 420.3,114.3 421.0,114.1 421.7,114.8 422.4,114.8 423.1,114.4 423.8,113.9 424.5,116.0 425.2,113.9 425.9,114.3 426.6,114.9 427.3,114.2 428.0,115.1 428.7,114.3 429.4,112.8 430.1,115.3 430.8,113.7 431.5,115.6 432.2,115.2 432.9,114.6 433.6,115.8 434.3,113.6 435.0,117.0 435.7,115.4 436.4,115.1 437.1,115.1 437.8,115.5 438.5,116.6 439.2,115.3 439.9,113.6 440.6,114.6 441.3,115.7 442.0,117.2 442.7,116.8 443.4,114.6 444.1,116.4 444.8,116.1 445.5,112.7 446.2,119.0 446.9,114.6 447.6,119.0 448.3,117.7 449.0,112.4 449.7,114.6 450.4,115.3 451.1,115.1 451.8,115.0 452.5,117.0 453.2,118.1 453.9,117.5 454.6,116.0 455.3,115.9 456.0,115.2 456.7,116.7 457.4,115.7 458.1,116.8 458.8,118.3 459.5,117.5 460.2,116.4 460.9,117.1 461.6,117.7 462.3,117.1 463.0,115.3 463.7,118.1 464.4,120.5 465.1,117.2 465.8,120.5 466.5,115.4 467.2,118.4 467.9,117.5 468.6,117.9 469.3,117.5 470.0,117.4 470.7,116.3 471.4,119.4 472.1,118.6 472.8,118.7 473.5,118.5 474.2,117.4 474.9,120.9 475.6,121.3 476.3,118.4 477.0,118.0 477.7,117.8 478.4,117.4 479.0,116.6 479.7,120.1 480.4,119.3 481.1,118.6 481.8,118.2 482.5,118.4 483.2,118.7 483.9,120.6 484.6,116.1 485.3,119.3 486.0,118.7 486.7,120.6 487.4,118.9 488.1,119.9 488.8,117.9 489.5,118.2 490.2,120.2 490.9,119.4 491.6,119.4 492.3,119.1 493.0,117.7 493.7,120.6 494.4,115.9 495.1,120.8 495.8,121.5 496.5,118.7 497.2,121.4 497.9,118.0 498.6,119.3 499.3,120.3 500.0,118.8 500.7,119.7 501.4,120.9 502.1,120.5 502.8,117.3 503.5,119.7 504.2,119.5 504.9,121.4 505.6,117.2 506.3,119.2 507.0,120.5 507.7,120.1 508.4,120.9 509.1,118.4 509.8,118.9 510.5,121.2 511.2,120.7 511.9,120.9 512.6,120.1 513.3,117.3 514.0,120.7" fill="none" stroke="#000" stroke-width="1.3" stroke-linejoin="round" stroke-dasharray="2.5 1.3"/>
<polyline points="397.5,114.8 398.2,115.7 398.9,115.4 399.6,114.4 400.3,113.2 401.0,116.4 401.7,115.6 402.4,114.8 403.1,115.8 403.8,112.1 404.5,113.2 405.2,112.5 405.9,113.5 406.6,115.7 407.3,112.6 408.0,114.1 408.7,114.8 409.4,115.0 410.1,115.5 410.8,114.6 411.5,113.6 412.2,112.2 412.9,114.9 413.6,112.9 414.3,113.5 415.0,112.9 415.7,114.1 416.4,116.0 417.1,112.4 417.8,113.2 418.5,116.0 419.2,114.2 419.9,114.6 420.6,110.9 421.3,112.0 422.0,114.1 422.7,114.7 423.4,113.3 424.1,114.1 424.8,113.5 425.5,114.9 426.2,116.1 426.9,117.5 427.6,116.7 428.3,117.1 429.0,114.7 429.7,113.8 430.4,112.2 431.1,114.4 431.8,111.6 432.5,112.4 433.1,115.1 433.8,115.8 434.5,114.6 435.2,115.8 435.9,115.7 436.6,115.1 437.3,114.4 438.0,118.2 438.7,115.1 439.4,115.3 440.1,114.2 440.8,116.9 441.5,114.7 442.2,117.0 442.9,116.9 443.6,116.9 444.3,115.4 445.0,116.2 445.7,113.9 446.4,115.1 447.1,116.1 447.8,114.4 448.5,113.4 449.2,115.8 449.9,113.2 450.6,115.6 451.3,115.5 452.0,117.6 452.7,114.7 453.4,114.8 454.1,115.9 454.8,114.9 455.5,113.3 456.2,113.9 456.9,117.8 457.6,117.0 458.3,114.7 459.0,115.4 459.7,115.1 460.4,119.1 461.1,115.7 461.8,116.1 462.5,117.8 463.2,114.7 463.9,115.9 464.6,115.5 465.3,114.7 466.0,117.6 466.7,116.7 467.4,117.3 468.1,115.7 468.8,116.0 469.5,119.0 470.2,118.7 470.9,119.1 471.6,117.4 472.3,119.5 473.0,119.3 473.7,115.9 474.4,119.3 475.1,117.2 475.8,121.3 476.5,117.1 477.2,120.4 477.9,116.3 478.6,118.1 479.3,117.7 480.0,119.9 480.7,118.1 481.4,119.4 482.1,117.4 482.8,119.5 483.5,119.3" fill="none" stroke="#000" stroke-width="1.2" stroke-linejoin="round" stroke-dasharray="2 1.6"/>
<polyline points="482.5,120.2 483.1,119.9 483.7,118.1 484.3,117.0 484.9,119.4 485.5,116.7 486.0,123.2 486.6,117.8 487.2,117.7 487.8,118.1 488.4,119.9 489.0,117.3 489.5,121.0 490.1,118.7 490.7,120.5 491.3,123.0 491.9,120.2 492.4,120.5 493.0,120.9 493.6,117.5 494.2,120.6 494.8,119.2 495.4,116.7 495.9,120.4 496.5,123.2 497.1,120.4 497.7,121.6 498.3,115.3 498.9,118.4 499.4,119.8 500.0,115.8 500.6,120.7 501.2,121.3 501.8,117.0 502.4,119.5 502.9,118.4 503.5,118.6 504.1,120.1 504.7,117.3 505.3,120.3 505.8,118.4 506.4,119.9 507.0,120.5 507.6,119.7 508.2,120.2 508.8,118.3 509.3,122.0 509.9,119.0 510.5,119.9 511.1,121.0 511.7,121.6 512.3,119.6 512.8,119.5 513.4,121.1 514.0,121.5" fill="none" stroke="#000" stroke-width="1.6" stroke-linejoin="round"/>
<polyline points="484.9,120.5 485.5,121.3 486.0,120.0 486.6,121.1 487.2,121.0 487.8,121.4 488.4,120.7 489.0,121.7 489.5,121.7 490.1,120.1 490.7,120.4 491.3,120.5 491.9,120.8 492.4,121.8 493.0,122.2 493.6,119.9 494.2,120.9 494.8,120.4 495.4,120.9 495.9,120.1 496.5,122.0 497.1,120.1 497.7,123.1 498.3,120.8 498.9,119.8 499.4,120.7 500.0,120.8 500.6,121.8 501.2,120.2 501.8,121.0 502.4,120.4 502.9,120.5 503.5,121.4 504.1,121.7 504.7,120.5 505.3,120.5 505.8,121.0 506.4,120.7 507.0,121.8 507.6,121.2 508.2,120.5 508.8,121.0 509.3,123.2 509.9,121.0 510.5,121.8 511.1,121.6 511.7,121.2 512.3,119.9 512.8,123.2 513.4,122.2 514.0,119.6" fill="none" stroke="#000" stroke-width="1.4" stroke-linejoin="round"/>
<polyline points="376.5,118.4 377.5,116.1 378.4,115.4 379.3,116.3 380.3,115.9 381.2,115.2 382.1,114.7 383.1,115.6 384.0,115.4 384.9,115.7 385.8,114.2 386.8,116.5 387.7,115.2 388.6,114.8 389.6,115.1 390.5,115.5 391.4,114.9 392.4,115.6 393.3,115.7 394.2,113.9 395.2,113.9 396.1,115.4 397.0,114.8 398.0,113.8 398.9,114.4 399.8,114.5 400.8,114.2 401.7,115.0 402.6,113.7 403.6,114.2 404.5,113.8 405.4,114.4 406.4,113.5 407.3,113.6 408.2,113.6 409.2,112.7 410.1,114.6 411.0,113.4 411.9,114.5 412.9,114.3 413.8,112.4 414.7,113.3 415.7,113.1 416.6,114.6 417.5,114.3 418.5,113.3 419.4,113.5 420.3,113.1 421.3,113.6 422.2,113.6 423.1,113.5 424.1,113.9 425.0,114.7 425.9,113.4 426.9,114.2 427.8,114.1 428.7,114.2 429.7,113.7 430.6,114.3 431.5,115.0 432.4,114.2 433.4,113.7 434.3,114.7 435.2,113.7 436.2,114.6 437.1,114.4 438.0,113.6 439.0,114.0 439.9,112.5 440.8,115.3 441.8,114.8 442.7,114.5 443.6,115.2 444.6,115.6 445.5,114.9 446.4,115.3 447.4,115.4 448.3,115.6 449.2,115.2 450.2,115.5 451.1,115.6 452.0,116.0 453.0,116.0 453.9,116.5 454.8,115.6 455.7,116.0 456.7,116.3 457.6,116.1 458.5,115.9 459.5,115.9 460.4,116.4 461.3,115.9 462.3,115.9 463.2,117.6 464.1,117.2 465.1,116.3 466.0,116.6 466.9,116.4 467.9,116.2 468.8,117.6 469.7,116.9 470.7,116.5 471.6,117.9 472.5,116.4 473.5,118.7 474.4,117.8 475.3,116.2 476.3,117.9 477.2,117.8 478.1,117.7 479.0,118.2 480.0,117.7 480.9,118.2" fill="none" stroke="#7d7d7d" stroke-width="0.8" stroke-linejoin="round"/>
<circle cx="416.3" cy="110.6" r="0.75" fill="#000"/>
<circle cx="434.3" cy="115.6" r="0.75" fill="#000"/>
<circle cx="449.3" cy="114.1" r="0.75" fill="#000"/>
<circle cx="466.4" cy="119.8" r="0.75" fill="#000"/>
<circle cx="447.0" cy="114.8" r="0.75" fill="#000"/>
<circle cx="467.0" cy="116.5" r="0.75" fill="#000"/>
<circle cx="457.1" cy="115.4" r="0.75" fill="#000"/>
<circle cx="508.8" cy="123.2" r="0.75" fill="#000"/>
<circle cx="403.0" cy="111.1" r="0.75" fill="#000"/>
<circle cx="454.9" cy="114.7" r="0.75" fill="#000"/>
<circle cx="401.5" cy="115.0" r="0.75" fill="#000"/>
<circle cx="409.0" cy="114.9" r="0.75" fill="#000"/>
<circle cx="426.9" cy="117.0" r="0.75" fill="#000"/>
<circle cx="386.6" cy="116.4" r="0.75" fill="#000"/>
<circle cx="478.4" cy="119.9" r="0.75" fill="#000"/>
<circle cx="468.9" cy="118.9" r="0.75" fill="#000"/>
<circle cx="486.5" cy="117.2" r="0.75" fill="#000"/>
<circle cx="469.7" cy="117.5" r="0.75" fill="#000"/>
<circle cx="474.0" cy="118.7" r="0.75" fill="#000"/>
<circle cx="508.3" cy="120.9" r="0.75" fill="#000"/>
<circle cx="484.5" cy="118.9" r="0.75" fill="#000"/>
<circle cx="508.2" cy="118.2" r="0.75" fill="#000"/>
<circle cx="405.0" cy="117.8" r="0.75" fill="#000"/>
<circle cx="500.3" cy="117.4" r="0.75" fill="#000"/>
<circle cx="408.5" cy="113.9" r="0.75" fill="#000"/>
<circle cx="467.7" cy="119.0" r="0.75" fill="#000"/>
<circle cx="482.0" cy="118.0" r="0.75" fill="#000"/>
<circle cx="406.1" cy="113.1" r="0.75" fill="#000"/>
<circle cx="413.1" cy="113.0" r="0.75" fill="#000"/>
<circle cx="432.4" cy="114.6" r="0.75" fill="#000"/>
<circle cx="434.4" cy="112.9" r="0.75" fill="#000"/>
<circle cx="506.1" cy="118.9" r="0.75" fill="#000"/>
<circle cx="455.8" cy="118.1" r="0.75" fill="#000"/>
<circle cx="436.6" cy="113.0" r="0.75" fill="#000"/>
<circle cx="400.6" cy="115.0" r="0.75" fill="#000"/>
<circle cx="469.5" cy="117.5" r="0.75" fill="#000"/>
<circle cx="398.7" cy="118.0" r="0.75" fill="#000"/>
<circle cx="481.9" cy="115.7" r="0.75" fill="#000"/>
<circle cx="491.4" cy="120.9" r="0.75" fill="#000"/>
<circle cx="473.4" cy="119.9" r="0.75" fill="#000"/>
<circle cx="509.4" cy="119.1" r="0.75" fill="#000"/>
<circle cx="417.9" cy="111.3" r="0.75" fill="#000"/>
<circle cx="411.7" cy="112.8" r="0.75" fill="#000"/>
<circle cx="493.3" cy="121.5" r="0.75" fill="#000"/>
<circle cx="496.8" cy="120.5" r="0.75" fill="#000"/>
<circle cx="378.6" cy="117.2" r="0.75" fill="#000"/>
<circle cx="450.1" cy="116.2" r="0.75" fill="#000"/>
<circle cx="386.2" cy="117.4" r="0.75" fill="#000"/>
<circle cx="377.2" cy="116.8" r="0.75" fill="#000"/>
<circle cx="377.1" cy="115.8" r="0.75" fill="#000"/>
<circle cx="408.1" cy="114.0" r="0.75" fill="#000"/>
<circle cx="512.2" cy="117.5" r="0.75" fill="#000"/>
<circle cx="379.2" cy="113.3" r="0.75" fill="#000"/>
<circle cx="509.9" cy="117.5" r="0.75" fill="#000"/>
<circle cx="397.0" cy="116.4" r="0.75" fill="#000"/>
<circle cx="420.5" cy="112.4" r="0.75" fill="#000"/>
<circle cx="433.9" cy="116.2" r="0.75" fill="#000"/>
<circle cx="384.1" cy="116.0" r="0.75" fill="#000"/>
<circle cx="388.1" cy="115.6" r="0.75" fill="#000"/>
<circle cx="462.3" cy="116.3" r="0.75" fill="#000"/>
<circle cx="472.3" cy="118.1" r="0.75" fill="#000"/>
<circle cx="476.7" cy="115.3" r="0.75" fill="#000"/>
<circle cx="423.5" cy="115.5" r="0.75" fill="#000"/>
<circle cx="504.2" cy="119.8" r="0.75" fill="#000"/>
<circle cx="453.6" cy="115.3" r="0.75" fill="#000"/>
<circle cx="471.7" cy="117.5" r="0.75" fill="#000"/>
<circle cx="429.5" cy="114.9" r="0.75" fill="#000"/>
<circle cx="486.1" cy="120.4" r="0.75" fill="#000"/>
<circle cx="486.8" cy="117.3" r="0.75" fill="#000"/>
<circle cx="402.8" cy="113.1" r="0.75" fill="#000"/>
<circle cx="503.6" cy="113.2" r="0.75" fill="#000"/>
<circle cx="498.1" cy="118.7" r="0.75" fill="#000"/>
<circle cx="496.4" cy="116.3" r="0.75" fill="#000"/>
<circle cx="497.0" cy="117.4" r="0.75" fill="#000"/>
<circle cx="497.6" cy="115.7" r="0.75" fill="#000"/>
<circle cx="502.7" cy="115.2" r="0.75" fill="#000"/>
<circle cx="498.2" cy="114.8" r="0.75" fill="#000"/>
<circle cx="501.6" cy="112.1" r="0.75" fill="#000"/>
<circle cx="514.2" cy="121.7" r="0.8" fill="#000"/>
<circle cx="514.2" cy="119.3" r="0.8" fill="#000"/>
<circle cx="514.2" cy="116.9" r="0.8" fill="#000"/>
<circle cx="514.2" cy="114.2" r="0.8" fill="#000"/>
<circle cx="514.2" cy="111.5" r="0.8" fill="#000"/>
<circle cx="514.2" cy="108.8" r="0.8" fill="#000"/>
<text x="437.1" y="81.2" font-size="10.25" font-weight="bold" text-anchor="start" fill="#000">FVIIai + collagen</text>
<line x1="436.40" y1="79.50" x2="416.50" y2="107.60" stroke="#222" stroke-width="0.9"/>
<text x="459.7" y="97" font-size="10.1" font-weight="bold" text-anchor="start" fill="#000">Control</text>
<line x1="459.00" y1="93.80" x2="446.40" y2="110.80" stroke="#222" stroke-width="0.9"/>
<text x="474.5" y="109.7" font-size="10.1" font-weight="bold" text-anchor="start" fill="#000">FVIIai</text>
<line x1="473.50" y1="105.50" x2="467.50" y2="114.00" stroke="#222" stroke-width="0.9"/>
<text x="0.8" y="10.9" font-size="13.8" font-weight="bold" text-anchor="start" fill="#000" style="stroke-width:.55px">A</text>
<text x="0.8" y="176.6" font-size="13.8" font-weight="bold" text-anchor="start" fill="#000" style="stroke-width:.55px">B</text>
<text x="318.6" y="176.8" font-size="13.8" font-weight="bold" text-anchor="start" fill="#000" style="stroke-width:.55px">C</text>
<line x1="36.20" y1="193.90" x2="36.20" y2="301.80" stroke="#3a3a3a" stroke-width="1.1"/>
<line x1="35.70" y1="301.30" x2="282.00" y2="301.30" stroke="#3a3a3a" stroke-width="1.1"/>
<line x1="33.70" y1="301.30" x2="36.20" y2="301.30" stroke="#3a3a3a" stroke-width="1"/>
<text x="28.1" y="304.3" font-size="8.6" font-weight="bold" text-anchor="end" fill="#000" letter-spacing="-0.3">0</text>
<line x1="33.70" y1="265.50" x2="36.20" y2="265.50" stroke="#3a3a3a" stroke-width="1"/>
<text x="28.1" y="268.5" font-size="8.6" font-weight="bold" text-anchor="end" fill="#000" letter-spacing="-0.3">10</text>
<line x1="33.70" y1="229.70" x2="36.20" y2="229.70" stroke="#3a3a3a" stroke-width="1"/>
<text x="28.1" y="232.7" font-size="8.6" font-weight="bold" text-anchor="end" fill="#000" letter-spacing="-0.3">20</text>
<line x1="33.70" y1="193.90" x2="36.20" y2="193.90" stroke="#3a3a3a" stroke-width="1"/>
<text x="28.1" y="196.9" font-size="8.6" font-weight="bold" text-anchor="end" fill="#000" letter-spacing="-0.3">30</text>
<line x1="96.90" y1="301.30" x2="96.90" y2="303.50" stroke="#3a3a3a" stroke-width="1"/>
<line x1="158.30" y1="301.30" x2="158.30" y2="303.50" stroke="#3a3a3a" stroke-width="1"/>
<line x1="219.80" y1="301.30" x2="219.80" y2="303.50" stroke="#3a3a3a" stroke-width="1"/>
<line x1="281.50" y1="301.30" x2="281.50" y2="303.50" stroke="#3a3a3a" stroke-width="1"/>
<rect x="76.40" y="290.00" width="11.60" height="11.30" fill="#000" stroke="#000" stroke-width="0.8"/>
<line x1="82.20" y1="290.00" x2="82.20" y2="289.00" stroke="#333" stroke-width="0.9"/>
<line x1="79.70" y1="289.00" x2="84.70" y2="289.00" stroke="#333" stroke-width="0.9"/>
<rect x="91.20" y="297.60" width="12.10" height="3.70" fill="#c4c4c4" stroke="#555" stroke-width="0.7"/>
<line x1="97.25" y1="297.60" x2="97.25" y2="296.60" stroke="#333" stroke-width="0.9"/>
<line x1="94.75" y1="296.60" x2="99.75" y2="296.60" stroke="#333" stroke-width="0.9"/>
<rect x="106.10" y="228.30" width="12.00" height="73.00" fill="#494949" stroke="#222" stroke-width="0.8"/>
<line x1="112.10" y1="228.30" x2="112.10" y2="224.00" stroke="#555" stroke-width="0.9"/>
<line x1="109.35" y1="224.00" x2="114.85" y2="224.00" stroke="#555" stroke-width="0.9"/>
<rect x="137.60" y="290.00" width="11.90" height="11.30" fill="#000" stroke="#000" stroke-width="0.8"/>
<line x1="143.55" y1="290.00" x2="143.55" y2="287.00" stroke="#555" stroke-width="0.9"/>
<line x1="141.05" y1="287.00" x2="146.05" y2="287.00" stroke="#555" stroke-width="0.9"/>
<rect x="152.40" y="288.10" width="12.10" height="13.20" fill="#c4c4c4" stroke="#555" stroke-width="0.7"/>
<line x1="158.45" y1="288.10" x2="158.45" y2="283.30" stroke="#444" stroke-width="0.9"/>
<line x1="155.80" y1="283.30" x2="161.10" y2="283.30" stroke="#444" stroke-width="0.9"/>
<rect x="167.40" y="286.80" width="11.90" height="14.50" fill="#494949" stroke="#222" stroke-width="0.8"/>
<line x1="173.35" y1="286.80" x2="173.35" y2="285.80" stroke="#555" stroke-width="0.9"/>
<line x1="170.85" y1="285.80" x2="175.85" y2="285.80" stroke="#555" stroke-width="0.9"/>
<rect x="199.10" y="280.20" width="11.60" height="21.10" fill="#000" stroke="#000" stroke-width="0.8"/>
<line x1="204.90" y1="280.20" x2="204.90" y2="276.50" stroke="#555" stroke-width="0.9"/>
<line x1="202.40" y1="276.50" x2="207.40" y2="276.50" stroke="#555" stroke-width="0.9"/>
<rect x="213.70" y="290.50" width="12.70" height="10.80" fill="#c4c4c4" stroke="#555" stroke-width="0.7"/>
<line x1="220.05" y1="290.50" x2="220.05" y2="290.00" stroke="#333" stroke-width="0.9"/>
<line x1="217.55" y1="290.00" x2="222.55" y2="290.00" stroke="#333" stroke-width="0.9"/>
<rect x="229.60" y="270.40" width="11.60" height="30.90" fill="#494949" stroke="#222" stroke-width="0.8"/>
<line x1="235.40" y1="270.40" x2="235.40" y2="262.10" stroke="#666" stroke-width="0.9"/>
<line x1="232.65" y1="262.10" x2="238.15" y2="262.10" stroke="#666" stroke-width="0.9"/>
<text x="112.2" y="218.2" font-size="10" font-weight="normal" text-anchor="middle" fill="#000">*</text>
<text x="100.2" y="313.7" font-size="10.1" font-weight="bold" text-anchor="middle" fill="#000">FXII+/+</text>
<text x="159.8" y="313.7" font-size="10.0" font-weight="bold" text-anchor="middle" fill="#000">FXII-/-</text>
<text x="222.5" y="313.7" font-size="10.0" font-weight="bold" text-anchor="middle" fill="#000">FXI-/-</text>
<text x="50" y="194.4" font-size="10.3" font-weight="bold" text-anchor="start" fill="#000">No tissue factor</text>
<text x="9.7" y="292" font-size="10.3" font-weight="bold" text-anchor="start" fill="#000" transform="rotate(-90 9.7 292)">Peak height (AAU)</text>
<rect x="178.8" y="203.8" width="103.8" height="43.3" fill="#fff" stroke="#a8a8a8" stroke-width="1.2"/>
<rect x="184" y="211.9" width="21" height="4.8" fill="#000"/>
<rect x="184.3" y="223.3" width="20.5" height="4.4" fill="#c4c4c4" stroke="#444" stroke-width="0.7"/>
<rect x="184.3" y="234.3" width="20.5" height="4.4" fill="#494949" stroke="#222" stroke-width="0.7"/>
<text x="210" y="217.1" font-size="8.8" font-weight="normal" text-anchor="start" fill="#111">Control</text>
<text x="210" y="228.2" font-size="8.8" font-weight="normal" text-anchor="start" fill="#111">FVIIai</text>
<text x="210" y="239.3" font-size="8.8" font-weight="normal" text-anchor="start" fill="#111">FVIIai + collagen</text>
<line x1="354.40" y1="194.20" x2="354.40" y2="300.90" stroke="#222" stroke-width="1.1"/>
<line x1="353.90" y1="300.40" x2="513.80" y2="300.40" stroke="#222" stroke-width="1.1"/>
<line x1="351.90" y1="300.40" x2="354.40" y2="300.40" stroke="#222" stroke-width="1"/>
<text x="346.59999999999997" y="303.4" font-size="8.6" font-weight="bold" text-anchor="end" fill="#000" letter-spacing="-0.3">0</text>
<line x1="351.90" y1="273.85" x2="354.40" y2="273.85" stroke="#222" stroke-width="1"/>
<text x="346.59999999999997" y="276.8" font-size="8.6" font-weight="bold" text-anchor="end" fill="#000" letter-spacing="-0.3">10</text>
<line x1="351.90" y1="247.30" x2="354.40" y2="247.30" stroke="#222" stroke-width="1"/>
<text x="346.59999999999997" y="250.3" font-size="8.6" font-weight="bold" text-anchor="end" fill="#000" letter-spacing="-0.3">20</text>
<line x1="351.90" y1="220.75" x2="354.40" y2="220.75" stroke="#222" stroke-width="1"/>
<text x="346.59999999999997" y="223.8" font-size="8.6" font-weight="bold" text-anchor="end" fill="#000" letter-spacing="-0.3">30</text>
<line x1="351.90" y1="194.20" x2="354.40" y2="194.20" stroke="#222" stroke-width="1"/>
<text x="346.59999999999997" y="197.2" font-size="8.6" font-weight="bold" text-anchor="end" fill="#000" letter-spacing="-0.3">40</text>
<line x1="394.00" y1="300.40" x2="394.00" y2="302.60" stroke="#222" stroke-width="1"/>
<line x1="433.60" y1="300.40" x2="433.60" y2="302.60" stroke="#222" stroke-width="1"/>
<line x1="473.40" y1="300.40" x2="473.40" y2="302.60" stroke="#222" stroke-width="1"/>
<line x1="513.40" y1="300.40" x2="513.40" y2="302.60" stroke="#222" stroke-width="1"/>
<rect x="386.00" y="232.10" width="15.80" height="68.30" fill="#b8b8b8" stroke="#4c4c4c" stroke-width="0.9"/>
<line x1="393.90" y1="232.10" x2="393.90" y2="228.50" stroke="#555" stroke-width="0.9"/>
<line x1="391.70" y1="228.50" x2="396.10" y2="228.50" stroke="#555" stroke-width="0.9"/>
<rect x="425.60" y="245.50" width="16.10" height="54.90" fill="#b8b8b8" stroke="#4c4c4c" stroke-width="0.9"/>
<line x1="433.65" y1="245.50" x2="433.65" y2="238.20" stroke="#555" stroke-width="0.9"/>
<line x1="431.45" y1="238.20" x2="435.85" y2="238.20" stroke="#555" stroke-width="0.9"/>
<rect x="465.20" y="218.70" width="16.50" height="81.70" fill="#b8b8b8" stroke="#4c4c4c" stroke-width="0.9"/>
<line x1="473.45" y1="218.70" x2="473.45" y2="210.10" stroke="#555" stroke-width="0.9"/>
<line x1="471.25" y1="210.10" x2="475.65" y2="210.10" stroke="#555" stroke-width="0.9"/>
<text x="397" y="313.1" font-size="10.0" font-weight="bold" text-anchor="middle" fill="#000">FXII+/+</text>
<text x="435.6" y="313.1" font-size="10.0" font-weight="bold" text-anchor="middle" fill="#000">FXII-/-</text>
<text x="475.6" y="313.1" font-size="10.0" font-weight="bold" text-anchor="middle" fill="#000">FXI-/-</text>
<text x="368.5" y="195.8" font-size="10.3" font-weight="bold" text-anchor="start" fill="#000">Tissue factor</text>
<text x="328.1" y="291.6" font-size="10.3" font-weight="bold" text-anchor="start" fill="#000" transform="rotate(-90 328.1 291.6)">Peak height (AAU)</text>
</svg>
</body>
</html>
